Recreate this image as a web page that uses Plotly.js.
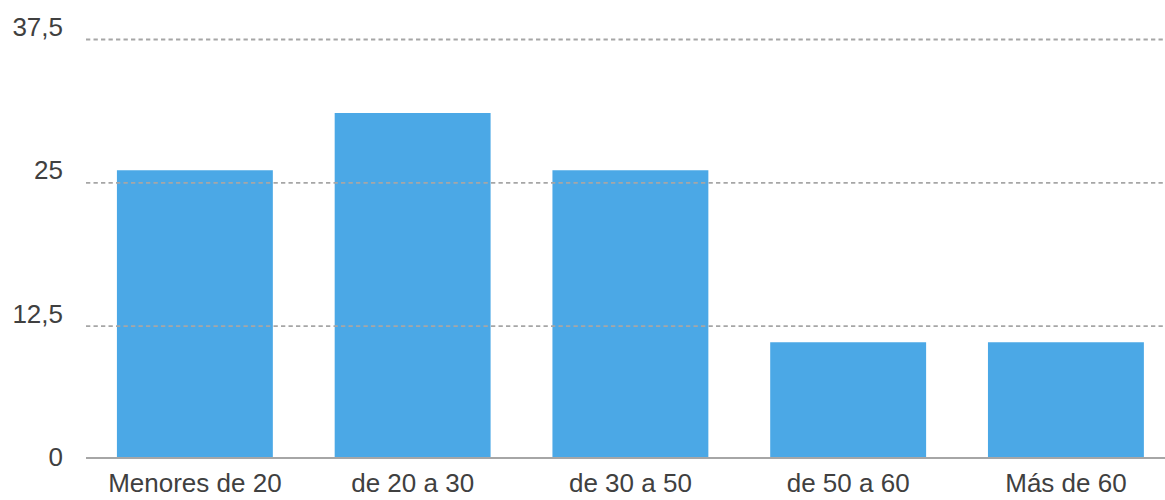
<!DOCTYPE html>
<html>
<head>
<meta charset="utf-8">
<script src="https://cdn.plot.ly/plotly-3.0.1.min.js"></script>
<style>html,body{margin:0;padding:0;background:#fff;}#chart{width:1165px;height:500px;}</style>
</head>
<body>
<div id="chart"></div>
<script>
const categories = ["Menores de 20", "de 20 a 30", "de 30 a 50", "de 50 a 60", "Más de 60"];
const values = [25, 30, 25, 10, 10];
const yTicks = [0, 12.5, 25, 37.5];

const gridTicks = yTicks.filter(v => v > 0);
const shapes = gridTicks.map(v => ({
  type: "line", xref: "paper", x0: 0, x1: 1,
  yref: "y", ysizemode: "pixel", yanchor: v, y0: -12.5, y1: -12.5,
  line: {color: "#a6a6a6", width: 1.8, dash: "4.3px,3.2px"},
  layer: "above"
}));

const data = [{
  type: "bar",
  x: categories,
  y: values,
  marker: {color: "#4ba8e6"},
  hoverinfo: "x+y"
}];

const layout = {
  width: 1165, height: 500,
  margin: {l: 86, r: 0, t: 27, b: 43, pad: 0},
  paper_bgcolor: "#ffffff", plot_bgcolor: "#ffffff",
  separators: ", ",
  font: {family: "Liberation Sans, Arial, sans-serif", size: 26, color: "#404040"},
  bargap: 0.284,
  showlegend: false,
  xaxis: {
    type: "category",
    range: [-0.5, 4.455],
    showgrid: false, zeroline: false,
    showline: true, linecolor: "#a6a6a6", linewidth: 2,
    ticks: "", ticklabelstandoff: 2,
    tickfont: {size: 26, color: "#404040"}
  },
  yaxis: {
    range: [0, 37.5],
    tickvals: yTicks,
    showgrid: false, zeroline: false, showline: false,
    ticks: "", ticklabelstandoff: 22,
    tickfont: {size: 26, color: "#404040"}
  },
  shapes: shapes
};

Plotly.newPlot("chart", data, layout, {displayModeBar: false, staticPlot: true});
</script>
</body>
</html>
